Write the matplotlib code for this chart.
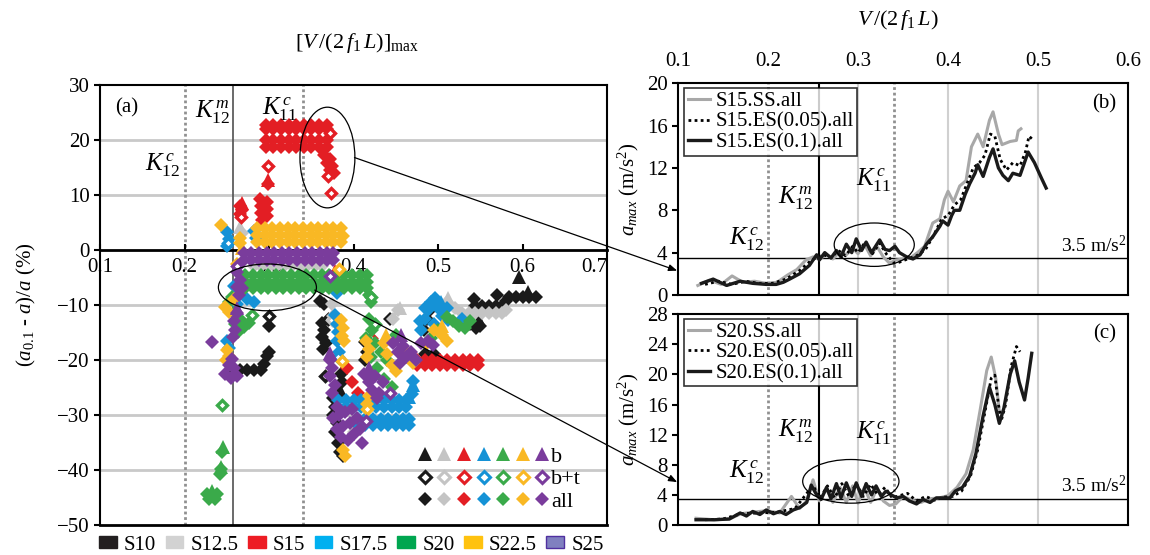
import numpy as np
import matplotlib
matplotlib.use("Agg")
import matplotlib.pyplot as plt
from matplotlib.patches import Ellipse, Patch, ConnectionPatch
from matplotlib.lines import Line2D

plt.rcParams["font.family"] = ["Liberation Serif", "DejaVu Serif"]
plt.rcParams["mathtext.fontset"] = "custom"
plt.rcParams["mathtext.rm"] = "Liberation Serif"
plt.rcParams["mathtext.it"] = "Liberation Serif:italic"
plt.rcParams["mathtext.bf"] = "Liberation Serif:bold"

series = ["S10", "S12.5", "S15", "S17.5", "S20", "S22.5", "S25"]
colors = ["#1a1a1a", "#c4c4c4", "#e31e24", "#1592d6", "#3aaa4a", "#f9b824", "#7a3c9c"]
legend_colors = ["#231f20", "#d2d2d2", "#ed1c24", "#00b0f0", "#00a650", "#ffc20e", "#8080c0"]

# ---- panel (a): (a0.1 - a)/a vs [V/(2 f1 L)]max ----
red_band_x = [0.296, 0.305, 0.314, 0.323, 0.332, 0.341, 0.350, 0.359, 0.368]
red_low_x = [0.475, 0.484, 0.493, 0.502, 0.511, 0.520, 0.529, 0.538, 0.547]
green_band_x = [0.272, 0.281, 0.290, 0.299, 0.308, 0.317, 0.326, 0.335, 0.344,
                0.353, 0.362, 0.371, 0.380, 0.389, 0.398, 0.407, 0.416]
yellow_band_x = [0.286, 0.295, 0.304, 0.313, 0.322, 0.331, 0.340, 0.349, 0.358,
                 0.367, 0.376, 0.385]
purple_band_x = [0.270, 0.279, 0.288, 0.297, 0.306, 0.315, 0.324, 0.333, 0.342,
                 0.351, 0.360, 0.369, 0.376]
blue_band_x = [0.382, 0.391, 0.400, 0.409, 0.418, 0.427, 0.436, 0.445, 0.454, 0.462]
blue_band2_x = [0.405, 0.414, 0.423, 0.432, 0.441, 0.450, 0.459, 0.466]
gray_band_x = [0.282, 0.291, 0.300, 0.309, 0.318, 0.327, 0.336, 0.345, 0.354, 0.362]

s10_rows = [(-21.8, [0.258, 0.266, 0.274, 0.282, 0.290]),
            (-10.2, [0.544, 0.552, 0.560, 0.568, 0.576]),
            (-8.6, [0.584, 0.592, 0.600, 0.608, 0.616])]
s10_pts = [(0.294, -20.8), (0.297, -19.3), (0.300, -18.6), (0.300, -13.8), (0.360, -9.2),
           (0.365, -9.8), (0.362, -13.2), (0.365, -14.5), (0.363, -15.8), (0.367, -17.0),
           (0.364, -18.0), (0.376, -27.0), (0.378, -28.5), (0.376, -30.0), (0.380, -31.5),
           (0.378, -33.0), (0.382, -35.0), (0.384, -36.8), (0.387, -37.5), (0.385, -22.5),
           (0.386, -24.0), (0.414, -16.8), (0.416, -18.5), (0.414, -20.0), (0.443, -12.5),
           (0.483, -14.5), (0.487, -12.5), (0.490, -11.0), (0.484, -19.0), (0.490, -19.8),
           (0.495, -19.0), (0.538, -13.5), (0.545, -14.2), (0.550, -13.8), (0.542, -9.0),
           (0.570, -8.2), (0.580, -9.2)]
s10_tri = [(0.596, -5.0), (0.606, -7.6), (0.548, -12.8), (0.384, -25.5)]
s10_open = [(0.300, -12.0), (0.370, -12.5), (0.366, -23.0)]

s12_rows = [(-3.0, gray_band_x),
            (-11.4, [0.528, 0.536, 0.544, 0.552, 0.560, 0.568, 0.576])]
s12_pts = [(0.268, 3.0), (0.374, -9.8), (0.376, -12.0), (0.380, -13.5), (0.453, -11.0),
           (0.447, -12.5), (0.510, -9.5), (0.520, -10.5), (0.580, -11.0), (0.395, -28.0),
           (0.400, -33.0)]
s12_tri = [(0.266, 4.2), (0.512, -8.8), (0.455, -10.5)]
s12_open = [(0.374, -12.8)]

s15_rows = [(22.7, red_band_x), (22.0, red_band_x), (20.0, red_band_x), (18.8, red_band_x),
            (-20.0, red_low_x), (-20.9, red_low_x)]
s15_pts = [(0.365, 17.2), (0.372, 16.5), (0.368, 15.8), (0.375, 15.2), (0.372, 14.5),
           (0.377, 14.0), (0.289, 9.2), (0.297, 8.8), (0.290, 8.0), (0.298, 7.5),
           (0.291, 6.8), (0.297, 6.2), (0.292, 5.5), (0.299, 12.0), (0.266, 8.0),
           (0.268, 7.2), (0.266, 6.5), (0.392, -21.5), (0.398, -24.0), (0.405, -26.0)]
s15_tri = [(0.299, 12.8), (0.378, -3.8), (0.268, 8.6)]
s15_open = [(0.370, 13.5), (0.373, 10.4), (0.299, 15.2), (0.267, 5.9), (0.372, 21.2),
            (0.420, -16.0)]

s17_rows = [(-27.3, blue_band_x), (-28.5, blue_band_x), (-30.8, blue_band2_x),
            (-31.8, blue_band2_x)]
s17_pts = [(0.250, 3.2), (0.252, 2.0), (0.250, 0.8), (0.282, 3.5), (0.284, 2.2),
           (0.258, -6.5), (0.266, -8.0), (0.274, -9.0), (0.282, -9.5), (0.262, -9.8),
           (0.250, -16.5), (0.253, -17.8), (0.378, -11.8), (0.380, -13.5), (0.382, -15.0),
           (0.380, -16.5), (0.383, -18.5), (0.380, -7.8), (0.470, -23.8), (0.469, -26.2),
           (0.480, -14.5), (0.484, -12.5), (0.488, -11.0), (0.492, -9.5), (0.496, -8.8),
           (0.485, -10.5), (0.478, -13.0), (0.500, -10.5), (0.505, -12.0), (0.510, -10.5),
           (0.512, -12.8), (0.495, -13.5), (0.528, -12.5), (0.532, -13.5)]
s17_tri = [(0.470, -24.5), (0.466, -26.8), (0.503, -9.5)]
s17_open = [(0.251, 1.2), (0.381, -19.5)]

s20_rows = [(-4.6, green_band_x), (-5.8, green_band_x), (-6.9, green_band_x)]
s20_pts = [(0.418, -8.2), (0.421, -9.5), (0.226, -44.3), (0.232, -44.8), (0.238, -44.3),
           (0.229, -45.3), (0.236, -45.3), (0.242, -40.8), (0.243, -39.8), (0.244, -36.8),
           (0.258, -11.5), (0.266, -12.5), (0.260, -13.5), (0.270, -14.0), (0.263, -15.0),
           (0.276, -13.2), (0.252, -9.5), (0.256, -8.5), (0.418, -12.5), (0.422, -14.5),
           (0.415, -16.0), (0.425, -17.0), (0.432, -18.5), (0.420, -19.5), (0.428, -21.5),
           (0.436, -23.5), (0.440, -20.0), (0.445, -25.0), (0.450, -15.5), (0.510, -12.2),
           (0.517, -13.0), (0.525, -13.8), (0.532, -14.2), (0.538, -13.0), (0.500, -14.5),
           (0.492, -16.0), (0.470, -20.0)]
s20_tri = [(0.245, -35.9), (0.243, -39.5), (0.233, -43.8)]
s20_open = [(0.244, -28.1), (0.420, -8.5), (0.280, -11.9), (0.425, -13.5)]

s22_rows = [(4.0, yellow_band_x), (2.7, yellow_band_x), (1.4, yellow_band_x)]
s22_pts = [(0.243, 4.5), (0.266, 2.2), (0.266, 1.2), (0.388, 2.5), (0.262, -2.5),
           (0.248, -10.3), (0.252, -11.2), (0.250, -18.2), (0.253, -19.3), (0.249, -20.0),
           (0.258, -9.0), (0.385, -12.8), (0.388, -14.2), (0.386, -15.6), (0.389, -16.5),
           (0.388, -36.3), (0.390, -37.4), (0.415, -16.5), (0.418, -18.0), (0.416, -19.5),
           (0.418, -26.5), (0.416, -28.0), (0.436, -17.0), (0.440, -19.0), (0.445, -21.0),
           (0.450, -22.0), (0.458, -18.0), (0.465, -19.5), (0.470, -20.5), (0.495, -14.5),
           (0.505, -15.5), (0.510, -16.5), (0.487, -17.0)]
s22_tri = [(0.268, 0.4), (0.505, -13.8), (0.438, -15.5)]
s22_open = [(0.386, -20.1), (0.383, -3.5), (0.416, -29.0)]

s25_rows = [(-0.6, purple_band_x), (-1.8, purple_band_x)]
s25_pts = [(0.262, -4.0), (0.265, -5.5), (0.262, -6.8), (0.268, -7.0), (0.264, -8.2),
           (0.262, -11.5), (0.258, -13.0), (0.260, -14.5), (0.257, -15.8), (0.256, -19.8),
           (0.252, -21.0), (0.258, -21.5), (0.248, -22.5), (0.255, -23.2), (0.262, -23.0),
           (0.232, -16.8), (0.372, -20.0), (0.375, -21.5), (0.372, -23.0), (0.378, -24.5),
           (0.375, -26.0), (0.380, -28.5), (0.376, -30.5), (0.383, -30.0), (0.390, -29.5),
           (0.380, -32.5), (0.388, -32.0), (0.396, -31.5), (0.385, -34.0), (0.393, -34.5),
           (0.400, -33.5), (0.408, -32.5), (0.404, -30.5), (0.398, -29.0), (0.410, -35.0),
           (0.412, -22.5), (0.418, -24.0), (0.425, -23.0), (0.422, -25.5), (0.430, -26.0),
           (0.435, -24.0), (0.428, -27.0), (0.446, -17.0), (0.452, -18.5), (0.458, -17.5),
           (0.462, -19.5), (0.468, -18.5), (0.474, -20.0), (0.480, -17.0), (0.488, -16.5),
           (0.494, -17.3), (0.455, -20.5)]
s25_tri = [(0.262, -10.5), (0.418, -21.5), (0.456, -15.5), (0.372, -18.8)]
s25_open = [(0.372, -4.8), (0.415, -31.0), (0.443, -26.0), (0.262, -3.0)]

all_rows = [s10_rows, s12_rows, s15_rows, s17_rows, s20_rows, s22_rows, s25_rows]
all_pts = [s10_pts, s12_pts, s15_pts, s17_pts, s20_pts, s22_pts, s25_pts]
all_tri = [s10_tri, s12_tri, s15_tri, s17_tri, s20_tri, s22_tri, s25_tri]
all_open = [s10_open, s12_open, s15_open, s17_open, s20_open, s22_open, s25_open]

# ---- panel (b): S15 ----
b_ss_x = [0.122, 0.135, 0.148, 0.160, 0.172, 0.185, 0.198, 0.210, 0.222, 0.232, 0.242, 0.250,
          0.257, 0.265, 0.272, 0.280, 0.287, 0.294, 0.300, 0.307, 0.314, 0.321, 0.328, 0.335,
          0.342, 0.350, 0.358, 0.366, 0.374, 0.383, 0.391, 0.396, 0.400, 0.406, 0.413, 0.420,
          0.426, 0.433, 0.439, 0.446, 0.450, 0.456, 0.460, 0.469, 0.476, 0.478, 0.481]
b_ss_y = [0.9, 1.4, 1.0, 1.8, 1.2, 1.3, 1.1, 1.2, 1.9, 2.4, 3.3, 3.6, 3.4, 3.8, 3.4, 4.1, 3.8,
          4.4, 3.9, 4.8, 3.7, 4.6, 3.6, 3.0, 3.3, 3.4, 3.5, 4.0, 4.6, 6.8, 7.2, 9.0, 9.8, 8.8,
          10.3, 10.8, 14.0, 15.2, 14.0, 16.5, 17.3, 15.2, 14.2, 14.5, 14.6, 15.5, 15.7]
b_es05_x = [0.130, 0.145, 0.160, 0.175, 0.190, 0.205, 0.220, 0.235, 0.247, 0.255, 0.262, 0.270,
            0.278, 0.286, 0.294, 0.300, 0.308, 0.316, 0.324, 0.332, 0.340, 0.346, 0.355, 0.365,
            0.375, 0.385, 0.393, 0.400, 0.407, 0.414, 0.421, 0.428, 0.435, 0.441, 0.447, 0.452,
            0.458, 0.465, 0.472, 0.480, 0.486, 0.490, 0.495]
b_es05_y = [1.0, 1.3, 1.0, 1.3, 1.1, 1.1, 1.5, 2.3, 3.2, 3.6, 3.8, 3.5, 4.2, 3.7, 4.6, 4.0, 5.0,
            3.9, 4.9, 3.8, 3.0, 3.1, 3.4, 3.7, 4.3, 5.8, 7.2, 7.5, 8.5, 9.0, 10.5, 12.0, 12.5,
            13.2, 15.2, 15.0, 12.8, 11.8, 12.5, 12.2, 13.5, 15.0, 14.6]
b_es1_x = [0.126, 0.139, 0.154, 0.169, 0.183, 0.198, 0.209, 0.217, 0.224, 0.235, 0.246, 0.254,
           0.257, 0.263, 0.270, 0.276, 0.281, 0.287, 0.293, 0.298, 0.304, 0.309, 0.315, 0.324,
           0.330, 0.335, 0.341, 0.346, 0.354, 0.361, 0.369, 0.376, 0.383, 0.391, 0.394, 0.400,
           0.404, 0.407, 0.413, 0.419, 0.424, 0.430, 0.433, 0.439, 0.446, 0.450, 0.456, 0.461,
           0.467, 0.472, 0.480, 0.489, 0.496, 0.504, 0.509]
b_es1_y = [1.1, 1.5, 0.9, 1.3, 1.1, 1.0, 1.0, 1.2, 1.5, 2.0, 2.8, 3.8, 3.3, 4.0, 3.5, 4.2, 3.6,
           4.8, 4.0, 5.3, 4.2, 5.0, 4.0, 5.2, 4.3, 4.2, 4.6, 4.0, 3.6, 3.4, 3.8, 4.8, 5.5, 6.5,
           7.0, 6.6, 7.5, 8.0, 8.0, 9.5, 10.5, 11.5, 12.3, 11.2, 13.0, 13.8, 12.0, 11.3, 10.8,
           11.5, 11.3, 13.5, 12.5, 11.0, 10.1]

# ---- panel (c): S20 ----
c_ss_x = [0.120, 0.140, 0.157, 0.170, 0.183, 0.198, 0.213, 0.226, 0.235, 0.243, 0.250, 0.257,
          0.265, 0.272, 0.280, 0.287, 0.294, 0.300, 0.307, 0.314, 0.321, 0.328, 0.335, 0.342,
          0.350, 0.360, 0.370, 0.380, 0.390, 0.400, 0.410, 0.420, 0.428, 0.436, 0.443, 0.448,
          0.453, 0.457]
c_ss_y = [0.9, 0.7, 0.8, 1.5, 1.7, 1.9, 1.6, 3.8, 2.2, 3.2, 6.0, 3.2, 4.8, 3.0, 5.0, 3.0, 5.2,
          2.9, 5.0, 3.0, 4.8, 3.2, 2.6, 2.8, 3.8, 3.3, 3.0, 3.5, 3.6, 3.9, 5.0, 6.8, 10.0, 15.5,
          20.5, 22.3, 19.5, 15.0]
c_es05_x = [0.130, 0.150, 0.170, 0.190, 0.210, 0.230, 0.245, 0.250, 0.258, 0.266, 0.274, 0.282,
            0.290, 0.298, 0.306, 0.314, 0.322, 0.330, 0.338, 0.346, 0.355, 0.365, 0.375, 0.385,
            0.395, 0.405, 0.415, 0.425, 0.433, 0.441, 0.448, 0.452, 0.456, 0.459, 0.464, 0.470,
            0.476, 0.480]
c_es05_y = [0.7, 0.8, 1.5, 1.6, 1.7, 2.2, 4.5, 5.2, 3.6, 5.2, 3.6, 5.5, 3.8, 5.5, 3.8, 5.4, 4.0,
            5.0, 3.6, 3.9, 4.2, 3.2, 3.8, 3.3, 3.7, 3.8, 4.5, 6.5, 10.0, 15.0, 19.5, 19.9, 16.0,
            13.8, 16.0, 21.0, 23.7, 23.0]
c_es1_x = [0.120, 0.140, 0.157, 0.169, 0.176, 0.183, 0.191, 0.198, 0.206, 0.213, 0.220, 0.228,
           0.235, 0.243, 0.248, 0.254, 0.259, 0.265, 0.270, 0.276, 0.281, 0.287, 0.293, 0.298,
           0.304, 0.309, 0.315, 0.320, 0.326, 0.331, 0.337, 0.343, 0.350, 0.357, 0.365, 0.372,
           0.380, 0.387, 0.394, 0.402, 0.408, 0.416, 0.424, 0.431, 0.439, 0.446, 0.452, 0.457,
           0.462, 0.469, 0.474, 0.479, 0.485, 0.489, 0.493]
c_es1_y = [0.7, 0.7, 0.8, 1.6, 1.2, 1.8, 1.4, 2.0, 1.5, 1.8, 1.4, 2.0, 2.3, 3.0, 5.3, 4.0, 3.4,
           5.0, 3.5, 5.5, 3.6, 5.6, 3.8, 5.6, 3.8, 5.5, 4.0, 5.2, 3.8, 4.5, 4.0, 3.6, 3.8, 3.2,
           2.8, 3.4, 3.0, 3.6, 3.6, 3.6, 4.5, 5.0, 6.5, 9.5, 14.5, 18.3, 16.0, 13.5, 15.5, 20.0,
           21.8, 19.0, 16.6, 19.5, 22.8]

fig = plt.figure(figsize=(11.5, 5.55), dpi=100)
ax_a = fig.add_axes([0.087, 0.054, 0.441, 0.793])
ax_b = fig.add_axes([0.5896, 0.4685, 0.3913, 0.3815])
ax_c = fig.add_axes([0.5896, 0.054, 0.3913, 0.38])

# ---------------- panel (a) ----------------
ax_a.set_xlim(0.1, 0.7)
ax_a.set_ylim(-50, 30)
for y in [20, 10, -10, -20, -30, -40]:
    ax_a.axhline(y, color="#c9c9c9", lw=2, zorder=0)
ax_a.axvline(0.2, color="#909090", lw=2, ls=(0, (1, 1)), zorder=1)
ax_a.axvline(0.34, color="#909090", lw=2, ls=(0, (1, 1)), zorder=1)
ax_a.axvline(0.257, color="#505050", lw=1.2, zorder=1)

ms_d = 6.8
for i, c in enumerate(colors):
    for yrow, xs in all_rows[i]:
        ax_a.plot(xs, [yrow] * len(xs), "D", color=c, ms=ms_d, mew=0, zorder=3)
    p = np.array(all_pts[i])
    ax_a.plot(p[:, 0], p[:, 1], "D", color=c, ms=ms_d, mew=0, zorder=3)
    t = np.array(all_tri[i])
    ax_a.plot(t[:, 0], t[:, 1], "^", color=c, ms=9.5, mew=0, zorder=3)
    o = np.array(all_open[i])
    ax_a.plot(o[:, 0], o[:, 1], "D", mfc="white", mec=c, ms=5, mew=2.4, zorder=3)

ax_a.spines["bottom"].set_position(("data", 0))
ax_a.spines["bottom"].set_linewidth(2)
for s in ["top", "left", "right"]:
    ax_a.spines[s].set_linewidth(1.5)
ax_a.axhline(-50, color="black", lw=2, clip_on=False, zorder=5)
ax_a.set_xticks([0.1, 0.2, 0.3, 0.4, 0.5, 0.6, 0.7])
ax_a.set_xticklabels(["0.1", "0.2", "0.3", "0.4", "0.5", "0.6", "0.7"])
ax_a.get_xticklabels()[-1].set_horizontalalignment("right")
ax_a.set_yticks(range(-50, 31, 10))
ax_a.tick_params(axis="both", labelsize=15, width=1.5, length=4)
ax_a.tick_params(axis="x", direction="in", pad=6)
ax_a.set_ylabel(r"$(a_{0.1}$ - $a)/a$ (%)", fontsize=15, labelpad=14)

ax_a.text(0.132, 25.9, "(a)", fontsize=15, ha="center", va="center")
ax_a.text(0.233, 25.0, r"$K_{12}^{\,m}$", fontsize=18, ha="center", va="center")
ax_a.text(0.312, 25.6, r"$K_{11}^{\,c}$", fontsize=18, ha="center", va="center")
ax_a.text(0.174, 15.4, r"$K_{12}^{\,c}$", fontsize=18, ha="center", va="center")

ax_a.add_patch(Ellipse((0.369, 16.8), 0.065, 18.3, fill=False, lw=0.9, zorder=6))
ax_a.add_patch(Ellipse((0.298, -6.8), 0.116, 8.5, fill=False, lw=0.9, zorder=6))

# inner marker legend
leg_handles = []
leg_labels = []
for i, c in enumerate(colors):
    leg_handles += [Line2D([], [], ls="none", marker="^", color=c, ms=9.5, mew=0),
                    Line2D([], [], ls="none", marker="D", mfc="white", mec=c, ms=6, mew=2.2),
                    Line2D([], [], ls="none", marker="D", color=c, ms=7, mew=0)]
    if i == len(colors) - 1:
        leg_labels += ["b", "b+t", "all"]
    else:
        leg_labels += ["", "", ""]
leg_in = ax_a.legend(leg_handles, leg_labels, ncol=7, loc="lower right",
                     bbox_to_anchor=(0.975, 0.0), frameon=False, fontsize=16,
                     handlelength=0.62, handletextpad=0.1, columnspacing=0.16,
                     labelspacing=0.08, borderpad=0.1)
leg_in.set_zorder(7)

fig.text(357 / 1150, 1 - 43 / 555, r"$[V\,/(2\,f_1\,L)]_{\rm max}$", fontsize=16,
         ha="center", va="center")

# bottom series legend
patches = []
for i, c in enumerate(legend_colors):
    ec = "#5030a0" if series[i] == "S25" else c
    patches.append(Patch(facecolor=c, edgecolor=ec, lw=1))
fig.legend(patches, series, ncol=7, loc="center left", bbox_to_anchor=(0.077, 0.018),
           frameon=False, fontsize=15, handlelength=0.85, handleheight=0.45,
           handletextpad=0.35, columnspacing=0.45, borderpad=0.0)

# ---------------- panels (b) and (c) ----------------
def draw_panel(ax, ss_x, ss_y, e5_x, e5_y, e1_x, e1_y, name, ymax, tag, klab_y):
    ax.set_xlim(0.1, 0.6)
    ax.set_ylim(0, ymax)
    for xv in [0.3, 0.4, 0.5]:
        ax.axvline(xv, color="#d0d0d0", lw=1.5, zorder=0)
    ax.axvline(0.2, color="#909090", lw=2, ls=(0, (1, 1)), zorder=1)
    ax.axvline(0.34, color="#909090", lw=2, ls=(0, (1, 1)), zorder=1)
    ax.axvline(0.257, color="black", lw=1.5, zorder=1)
    ax.axhline(3.5, color="black", lw=1.0, zorder=2)
    ax.plot(ss_x, ss_y, color="#a8a8a8", lw=2.2, label=name + ".SS.all", zorder=3)
    ax.plot(e5_x, e5_y, color="black", lw=2.0, ls=(0, (1, 1.2)),
            label=name + ".ES(0.05).all", zorder=4)
    ax.plot(e1_x, e1_y, color="#1a1a1a", lw=2.4, label=name + ".ES(0.1).all", zorder=5)
    ax.set_yticks(range(0, ymax + 1, 4))
    ax.tick_params(axis="y", labelsize=15, width=1.5, length=4)
    for s in ax.spines.values():
        s.set_linewidth(1.5)
    ax.set_ylabel(r"$a_{max}$ (m/s$^2$)", fontsize=15, labelpad=4)
    leg = ax.legend(loc="upper left", bbox_to_anchor=(0.005, 0.995), fontsize=15,
                    frameon=True, fancybox=False, handlelength=1.1, handletextpad=0.25,
                    labelspacing=0.05, borderpad=0.15, borderaxespad=0.2)
    leg.get_frame().set_edgecolor("black")
    leg.get_frame().set_linewidth(1.2)
    ax.text(0.574, ymax * 0.905, tag, fontsize=15, ha="center", va="center")
    ax.text(0.598, 3.5 + ymax * 0.01, r"3.5 m/s$^2$", fontsize=14, ha="right", va="bottom")
    ax.text(0.176, klab_y[0], r"$K_{12}^{\,c}$", fontsize=18, ha="center", va="center")
    ax.text(0.231, klab_y[1], r"$K_{12}^{\,m}$", fontsize=18, ha="center", va="center")
    ax.text(0.317, klab_y[2], r"$K_{11}^{\,c}$", fontsize=18, ha="center", va="center")

draw_panel(ax_b, b_ss_x, b_ss_y, b_es05_x, b_es05_y, b_es1_x, b_es1_y, "S15", 20, "(b)",
           (5.3, 9.1, 10.8))
draw_panel(ax_c, c_ss_x, c_ss_y, c_es05_x, c_es05_y, c_es1_x, c_es1_y, "S20", 28, "(c)",
           (7.0, 12.4, 12.2))

ax_b.xaxis.tick_top()
ax_b.set_xticks([0.1, 0.2, 0.3, 0.4, 0.5, 0.6])
ax_b.set_xticklabels(["0.1", "0.2", "0.3", "0.4", "0.5", "0.6"])
ax_b.tick_params(axis="x", labelsize=15, length=0, pad=9)
ax_c.set_xticks([])

ax_b.add_patch(Ellipse((0.318, 4.75), 0.089, 4.1, fill=False, lw=0.9, zorder=6))
ax_c.add_patch(Ellipse((0.292, 5.8), 0.107, 5.8, fill=False, lw=0.9, zorder=6))

fig.text(898 / 1150, 1 - 20 / 555, r"$V\,/(2\,f_1\,L)$", fontsize=16, ha="center", va="center")

# connector arrows from (a) to (b) and (c)
con1 = ConnectionPatch(xyA=(0.401, 16.8), coordsA=ax_a.transData,
                       xyB=(0.099, 2.3), coordsB=ax_b.transData,
                       arrowstyle="-|>,head_length=0.5,head_width=0.2", lw=0.9, color="black")
fig.add_artist(con1)
con2 = ConnectionPatch(xyA=(0.354, -7.3), coordsA=ax_a.transData,
                       xyB=(0.099, 5.7), coordsB=ax_c.transData,
                       arrowstyle="-|>,head_length=0.5,head_width=0.2", lw=0.9, color="black")
fig.add_artist(con2)

fig.savefig("out.png", dpi=100)
